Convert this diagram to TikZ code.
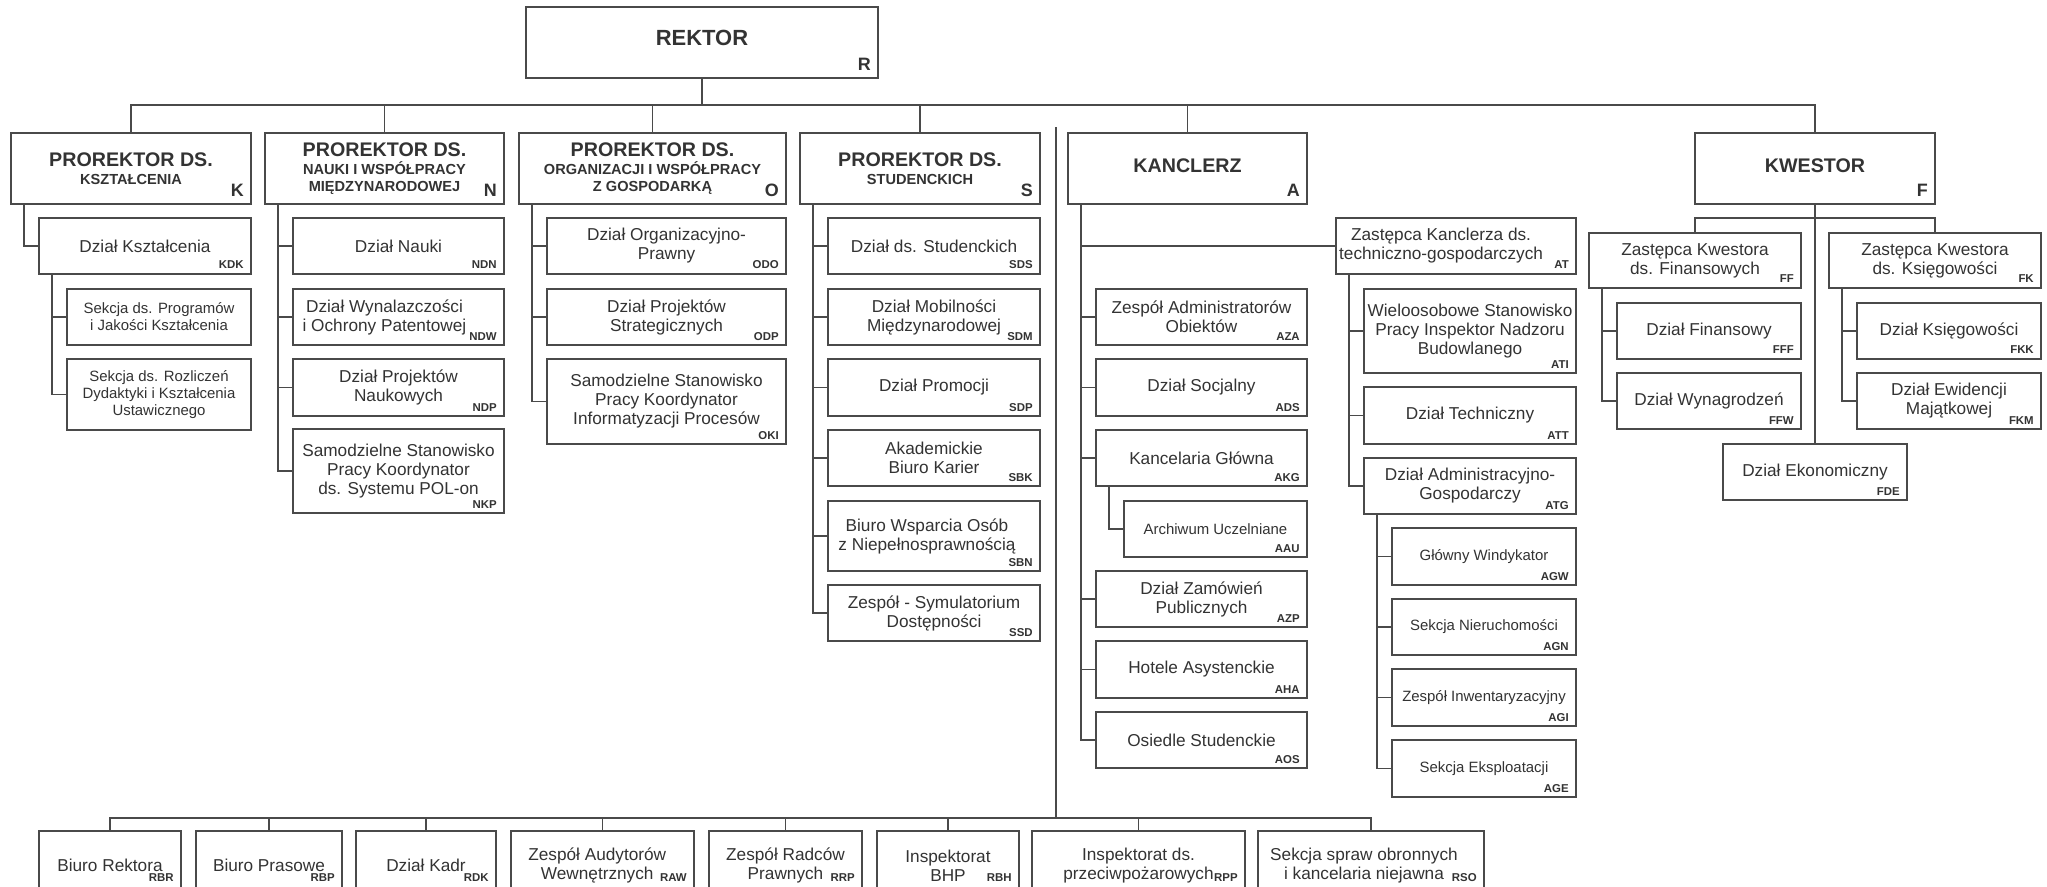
\documentclass[tikz,border=0pt]{standalone}
\usepackage{fontspec}
\setmainfont{Liberation Sans}

\definecolor{ln}{HTML}{4A4A4A}
\definecolor{tx}{HTML}{333333}

\newcommand{\mainfnt}{\fontsize{9.8}{10.8}\selectfont}
\newcommand{\smallfnt}{\fontsize{8.5}{9.6}\selectfont}
\newcommand{\subfnt}{\fontsize{8.3}{9.6}\selectfont\bfseries}
\newcommand{\headfnt}{\fontsize{11.2}{13}\selectfont\bfseries}
\newcommand{\rekfnt}{\fontsize{12.5}{14}\selectfont\bfseries}
\newcommand{\codefnt}{\fontsize{6.5}{7}\selectfont\bfseries}
\newcommand{\headcodefnt}{\fontsize{10.2}{12}\selectfont\bfseries}

\tikzset{
  box/.style={draw=ln, line width=1.1pt, fill=white, text=tx, inner sep=0pt, align=center, font=\mainfnt},
  smallbox/.style={box, font=\smallfnt},
  headbox/.style={box, font=\subfnt},
  code/.style={anchor=base east, xshift=-4.5pt, yshift=3.4pt, inner sep=0pt, text=tx, font=\codefnt},
  botcode/.style={code, yshift=7.9pt},
  headcode/.style={code, yshift=1.7pt, font=\headcodefnt},
  link/.style={draw=ln, line width=1.1pt},
}

\newcommand{\orgbox}[7]{%
  \node[#1, minimum width={(#5-#3)*0.02cm}, minimum height={(#6-#4)*0.02cm}] (#2) at ({(#3+#5)/2},{(#4+#6)/2}) {#7};}
\newcommand{\orgcode}[2]{\node[#1] (#2-code) at (#2.south east) {#2};}

\begin{document}
\begin{tikzpicture}[x=0.02cm, y=-0.02cm]
  \useasboundingbox (0,0) rectangle (2047,886);
  \clip (0,0) rectangle (2047,886);
  \fill[white] (0,0) rectangle (2047,886);

  \orgbox{headbox}{R}{526}{7}{878}{78}{\raisebox{5.6pt}{\rekfnt REKTOR}}
  \orgcode{headcode}{R}

  \orgbox{headbox}{K}{11}{133}{251}{204}{{\headfnt PROREKTOR DS.}\\[0.6pt]KSZTAŁCENIA}
  \orgcode{headcode}{K}
  \orgbox{headbox}{N}{265}{133}{504}{204}{{\headfnt PROREKTOR DS.}\\[0.6pt]NAUKI I WSPÓŁPRACY\\MIĘDZYNARODOWEJ}
  \orgcode{headcode}{N}
  \orgbox{headbox}{O}{519}{133}{786}{204}{{\headfnt PROREKTOR DS.}\\[0.6pt]ORGANIZACJI I WSPÓŁPRACY\\Z GOSPODARKĄ}
  \orgcode{headcode}{O}
  \orgbox{headbox}{S}{800}{133}{1040}{204}{{\headfnt PROREKTOR DS.}\\[0.6pt]STUDENCKICH}
  \orgcode{headcode}{S}
  \orgbox{headbox}{A}{1068}{133}{1307}{204}{\raisebox{3.4pt}{\headfnt KANCLERZ}}
  \orgcode{headcode}{A}
  \orgbox{headbox}{F}{1695}{133}{1935}{204}{\raisebox{3.4pt}{\headfnt KWESTOR}}
  \orgcode{headcode}{F}

  \orgbox{box}{KDK}{39}{218}{251}{274}{Dział Kształcenia}
  \orgcode{code}{KDK}
  \orgbox{smallbox}{KSP}{67}{289}{251}{345}{Sekcja ds. Programów\\i Jakości Kształcenia}
  \orgbox{smallbox}{KSR}{67}{359}{251}{430}{Sekcja ds. Rozliczeń\\Dydaktyki i Kształcenia\\Ustawicznego}

  \orgbox{box}{NDN}{293}{218}{504}{274}{Dział Nauki}
  \orgcode{code}{NDN}
  \orgbox{box}{NDW}{293}{289}{504}{345}{Dział Wynalazczości\hspace*{16pt}\\i Ochrony Patentowej\hspace*{16pt}}
  \orgcode{code}{NDW}
  \orgbox{box}{NDP}{293}{359}{504}{416}{Dział Projektów\\Naukowych}
  \orgcode{code}{NDP}
  \orgbox{box}{NKP}{293}{429}{504}{513}{Samodzielne Stanowisko\\Pracy Koordynator\\ds. Systemu POL-on}
  \orgcode{code}{NKP}

  \orgbox{box}{ODO}{547}{218}{786}{274}{Dział Organizacyjno-\\Prawny}
  \orgcode{code}{ODO}
  \orgbox{box}{ODP}{547}{289}{786}{345}{Dział Projektów\\Strategicznych}
  \orgcode{code}{ODP}
  \orgbox{box}{OKI}{547}{359}{786}{444}{Samodzielne Stanowisko\\Pracy Koordynator\\Informatyzacji Procesów}
  \orgcode{code}{OKI}

  \orgbox{box}{SDS}{828}{218}{1040}{274}{Dział ds. Studenckich}
  \orgcode{code}{SDS}
  \orgbox{box}{SDM}{828}{289}{1040}{345}{Dział Mobilności\\Międzynarodowej}
  \orgcode{code}{SDM}
  \orgbox{box}{SDP}{828}{359}{1040}{416}{Dział Promocji}
  \orgcode{code}{SDP}
  \orgbox{box}{SBK}{828}{430}{1040}{486}{Akademickie\\Biuro Karier}
  \orgcode{code}{SBK}
  \orgbox{box}{SBN}{828}{501}{1040}{571}{Biuro Wsparcia Osób\hspace*{8pt}\\z Niepełnosprawnością\hspace*{8pt}}
  \orgcode{code}{SBN}
  \orgbox{box}{SSD}{828}{585}{1040}{641}{Zespół - Symulatorium\\Dostępności}
  \orgcode{code}{SSD}

  \orgbox{box}{AT}{1336}{218}{1576}{274}{Zastępca Kanclerza ds.\hspace*{17pt}\\techniczno-gospodarczych\hspace*{17pt}}
  \orgcode{code}{AT}
  \orgbox{box}{AZA}{1096}{289}{1307}{345}{Zespół Administratorów\\Obiektów}
  \orgcode{code}{AZA}
  \orgbox{box}{ADS}{1096}{359}{1307}{416}{Dział Socjalny}
  \orgcode{code}{ADS}
  \orgbox{box}{AKG}{1096}{430}{1307}{486}{Kancelaria Główna}
  \orgcode{code}{AKG}
  \orgbox{smallbox}{AAU}{1124}{501}{1307}{557}{Archiwum Uczelniane}
  \orgcode{code}{AAU}
  \orgbox{box}{AZP}{1096}{571}{1307}{627}{Dział Zamówień\\Publicznych}
  \orgcode{code}{AZP}
  \orgbox{box}{AHA}{1096}{641}{1307}{698}{Hotele Asystenckie}
  \orgcode{code}{AHA}
  \orgbox{box}{AOS}{1096}{712}{1307}{768}{Osiedle Studenckie}
  \orgcode{code}{AOS}

  \orgbox{box}{ATI}{1364}{289}{1576}{373}{Wieloosobowe Stanowisko\\Pracy Inspektor Nadzoru\\Budowlanego}
  \orgcode{code}{ATI}
  \orgbox{box}{ATT}{1364}{387}{1576}{444}{Dział Techniczny}
  \orgcode{code}{ATT}
  \orgbox{box}{ATG}{1364}{458}{1576}{514}{Dział Administracyjno-\\Gospodarczy}
  \orgcode{code}{ATG}
  \orgbox{smallbox}{AGW}{1392}{528}{1576}{585}{Główny Windykator}
  \orgcode{code}{AGW}
  \orgbox{smallbox}{AGN}{1392}{599}{1576}{655}{Sekcja Nieruchomości}
  \orgcode{code}{AGN}
  \orgbox{smallbox}{AGI}{1392}{669}{1576}{726}{Zespół Inwentaryzacyjny}
  \orgcode{code}{AGI}
  \orgbox{smallbox}{AGE}{1392}{740}{1576}{797}{Sekcja Eksploatacji}
  \orgcode{code}{AGE}

  \orgbox{box}{FF}{1589}{233}{1801}{288}{Zastępca Kwestora\\ds. Finansowych}
  \orgcode{code}{FF}
  \orgbox{box}{FK}{1829}{233}{2041}{288}{Zastępca Kwestora\\ds. Księgowości}
  \orgcode{code}{FK}
  \orgbox{box}{FFF}{1617}{303}{1801}{359}{Dział Finansowy}
  \orgcode{code}{FFF}
  \orgbox{box}{FFW}{1617}{373}{1801}{429}{Dział Wynagrodzeń}
  \orgcode{code}{FFW}
  \orgbox{box}{FKK}{1857}{303}{2041}{359}{Dział Księgowości}
  \orgcode{code}{FKK}
  \orgbox{box}{FKM}{1857}{373}{2041}{429}{Dział Ewidencji\\Majątkowej}
  \orgcode{code}{FKM}
  \orgbox{box}{FDE}{1723}{444}{1907}{500}{Dział Ekonomiczny}
  \orgcode{code}{FDE}

  \orgbox{box}{RBR}{39}{831}{181}{900}{Biuro Rektora}
  \orgcode{botcode}{RBR}
  \orgbox{box}{RBP}{196}{831}{342}{900}{Biuro Prasowe}
  \orgcode{botcode}{RBP}
  \orgbox{box}{RDK}{356}{831}{496}{900}{Dział Kadr}
  \orgcode{botcode}{RDK}
  \orgbox{box}{RAW}{511}{831}{694}{900}{Zespół Audytorów\hspace*{6pt}\\Wewnętrznych\hspace*{6pt}}
  \orgcode{botcode}{RAW}
  \orgbox{box}{RRP}{709}{831}{862}{900}{Zespół Radców\\Prawnych}
  \orgcode{botcode}{RRP}
  \orgbox{box}{RBH}{877}{831}{1019}{900}{Inspektorat\\BHP}
  \orgcode{botcode}{RBH}
  \orgbox{box}{RPP}{1032}{831}{1245}{900}{Inspektorat ds.\\przeciwpożarowych}
  \orgcode{botcode}{RPP}
  \orgbox{box}{RSO}{1258}{831}{1484}{900}{Sekcja spraw obronnych\hspace*{8pt}\\i kancelaria niejawna\hspace*{8pt}}
  \orgcode{botcode}{RSO}

  \coordinate (topbus) at (702,105);
  \draw[link] (R.south) -- (topbus);
  \draw[link] (K.north) |- (topbus) -| (F.north);
  \draw[link] (N.north) -- (N.north |- topbus);
  \draw[link] (O.north) -- (O.north |- topbus);
  \draw[link] (S.north) -- (S.north |- topbus);
  \draw[link] (A.north) -- (A.north |- topbus);

  \draw[link] ([xshift=0.28cm]K.south west) |- (KDK.west);
  \draw[link] ([xshift=0.28cm]KDK.south west) |- (KSP.west);
  \draw[link] ([xshift=0.28cm]KDK.south west) |- (KSR.west);

  \draw[link] ([xshift=0.28cm]N.south west) |- (NDN.west);
  \draw[link] ([xshift=0.28cm]N.south west) |- (NDW.west);
  \draw[link] ([xshift=0.28cm]N.south west) |- (NDP.west);
  \draw[link] ([xshift=0.28cm]N.south west) |- (NKP.west);

  \draw[link] ([xshift=0.28cm]O.south west) |- (ODO.west);
  \draw[link] ([xshift=0.28cm]O.south west) |- (ODP.west);
  \draw[link] ([xshift=0.28cm]O.south west) |- (OKI.west);

  \draw[link] ([xshift=0.28cm]S.south west) |- (SDS.west);
  \draw[link] ([xshift=0.28cm]S.south west) |- (SDM.west);
  \draw[link] ([xshift=0.28cm]S.south west) |- (SDP.west);
  \draw[link] ([xshift=0.28cm]S.south west) |- (SBK.west);
  \draw[link] ([xshift=0.28cm]S.south west) |- (SBN.west);
  \draw[link] ([xshift=0.28cm]S.south west) |- (SSD.west);

  \draw[link] ([xshift=0.28cm]A.south west) |- (AT.west);
  \draw[link] ([xshift=0.28cm]A.south west) |- (AZA.west);
  \draw[link] ([xshift=0.28cm]A.south west) |- (ADS.west);
  \draw[link] ([xshift=0.28cm]A.south west) |- (AKG.west);
  \draw[link] ([xshift=0.28cm]A.south west) |- (AZP.west);
  \draw[link] ([xshift=0.28cm]A.south west) |- (AHA.west);
  \draw[link] ([xshift=0.28cm]A.south west) |- (AOS.west);
  \draw[link] ([xshift=0.28cm]AKG.south west) |- (AAU.west);

  \draw[link] ([xshift=0.28cm]AT.south west) |- (ATI.west);
  \draw[link] ([xshift=0.28cm]AT.south west) |- (ATT.west);
  \draw[link] ([xshift=0.28cm]AT.south west) |- (ATG.west);
  \draw[link] ([xshift=0.28cm]ATG.south west) |- (AGW.west);
  \draw[link] ([xshift=0.28cm]ATG.south west) |- (AGN.west);
  \draw[link] ([xshift=0.28cm]ATG.south west) |- (AGI.west);
  \draw[link] ([xshift=0.28cm]ATG.south west) |- (AGE.west);

  \draw[link] (F.south) -- (FDE.north);
  \draw[link] (FF.north) -- ++(0,-14) -| (FK.north);
  \draw[link] ([xshift=0.28cm]FF.south west) |- (FFF.west);
  \draw[link] ([xshift=0.28cm]FF.south west) |- (FFW.west);
  \draw[link] ([xshift=0.28cm]FK.south west) |- (FKK.west);
  \draw[link] ([xshift=0.28cm]FK.south west) |- (FKM.west);

  \coordinate (divtop) at (1056,127);
  \coordinate (botbus) at (1056,818);
  \draw[link] (divtop) -- (botbus);
  \draw[link] (RBR.north) |- (botbus) -| (RSO.north);
  \draw[link] (RBP.north) -- (RBP.north |- botbus);
  \draw[link] (RDK.north) -- (RDK.north |- botbus);
  \draw[link] (RAW.north) -- (RAW.north |- botbus);
  \draw[link] (RRP.north) -- (RRP.north |- botbus);
  \draw[link] (RBH.north) -- (RBH.north |- botbus);
  \draw[link] (RPP.north) -- (RPP.north |- botbus);
\end{tikzpicture}
\end{document}
